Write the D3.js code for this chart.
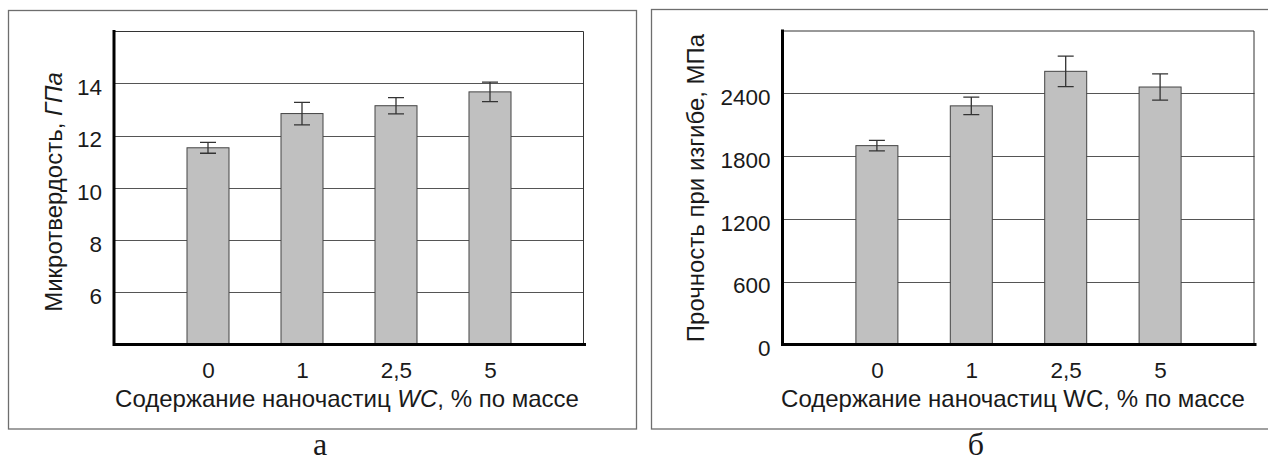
<!DOCTYPE html>
<html>
<head>
<meta charset="utf-8">
<script src="https://cdn.jsdelivr.net/npm/d3@7"></script>
<style>
  body { margin: 0; background: #fff; }
  text { font-family: "Liberation Sans", Arial, sans-serif; fill: #1a1a1a; }
  .caption { font-family: "Liberation Serif", "Times New Roman", serif; }
</style>
</head>
<body>
<div id="chart"></div>
<script>
// WC nanoparticle content, % by mass
const categories = ["0", "1", "2,5", "5"];

// panel a: microhardness, GPa
const hardness = [11.53, 12.84, 13.14, 13.67];
const hardnessErr = [0.21, 0.43, 0.31, 0.37];
const hardnessTicks = [6, 8, 10, 12, 14];

// panel b: bending strength, MPa
const strength = [1900, 2280, 2610, 2460];
const strengthErr = [51, 83, 146, 125];
const strengthTicks = [0, 600, 1200, 1800, 2400];

const W = 1268, H = 462;

const svg = d3.select("#chart")
    .append("svg")
    .attr("width", W)
    .attr("height", H);

function drawPanel(p) {
    const g = svg.append("g");

    // outer frame
    g.append("rect")
        .attr("x", p.frame[0]).attr("y", p.frame[1])
        .attr("width", p.frame[2]).attr("height", p.frame[3])
        .attr("fill", "none")
        .attr("stroke", "#6e6e6e")
        .attr("stroke-width", 1.3);

    const x = d3.scalePoint()
        .domain(categories)
        .range([p.left, p.right])
        .padding(1);

    const y = d3.scaleLinear()
        .domain(p.domain)
        .range([p.bottom, p.top]);

    // gridlines
    g.append("g")
        .selectAll("line")
        .data(p.ticks)
        .enter()
        .append("line")
        .attr("x1", p.left).attr("x2", p.right)
        .attr("y1", d => Math.round(y(d)) + 0.5)
        .attr("y2", d => Math.round(y(d)) + 0.5)
        .attr("stroke", "#555")
        .attr("stroke-width", 1);

    // plot top and right border
    g.append("path")
        .attr("d", `M${p.left},${p.top + 0.5}H${p.right - 0.5}V${p.bottom}`)
        .attr("fill", "none")
        .attr("stroke", "#333")
        .attr("stroke-width", 1);

    const bw = 42;
    // bars
    g.append("g")
        .selectAll("rect")
        .data(p.values)
        .enter()
        .append("rect")
        .attr("x", (d, i) => x(categories[i]) - bw / 2)
        .attr("y", d => y(d))
        .attr("width", bw)
        .attr("height", d => p.bottom - y(d))
        .attr("fill", "#c0c0c0")
        .attr("stroke", "#444")
        .attr("stroke-width", 1);

    // error bars
    const cap = 8;
    g.append("g")
        .attr("stroke", "#333")
        .attr("stroke-width", 1.3)
        .selectAll("path")
        .data(p.values)
        .enter()
        .append("path")
        .attr("fill", "none")
        .attr("d", (d, i) => {
            const cx = x(categories[i]);
            const e = p.errors[i];
            const y1 = y(d + e), y0 = y(d - e);
            return `M${cx - cap},${y1}H${cx + cap}M${cx},${y1}V${y0}M${cx - cap},${y0}H${cx + cap}`;
        });

    // y axis
    const yAxis = d3.axisLeft(y)
        .tickValues(p.ticks)
        .tickFormat(d3.format("d"))
        .tickSize(0)
        .tickPadding(12);
    const ya = g.append("g")
        .attr("transform", `translate(${p.left},0)`)
        .call(yAxis);
    ya.select(".domain").remove();
    ya.selectAll("text")
        .attr("font-size", 22.5)
        .attr("dy", "0.5em")
        .style("font-family", "Liberation Sans, Arial, sans-serif")
        .attr("fill", "#1a1a1a");

    // x axis
    const xAxis = d3.axisBottom(x)
        .tickSize(0)
        .tickPadding(18);
    const xa = g.append("g")
        .attr("transform", `translate(0,${p.bottom})`)
        .call(xAxis);
    xa.select(".domain").remove();
    xa.selectAll("text")
        .attr("font-size", 22.5)
        .style("font-family", "Liberation Sans, Arial, sans-serif")
        .attr("fill", "#1a1a1a");

    // thick axis lines
    g.append("path")
        .attr("d", `M${p.left},${p.top - 1}V${p.bottom}H${p.right + 2}`)
        .attr("fill", "none")
        .attr("stroke", "#000")
        .attr("stroke-width", 3);

    // y title
    const yt = g.append("text")
        .attr("transform", `translate(${p.yTitleX},${p.yTitleY}) rotate(-90)`)
        .attr("text-anchor", "middle")
        .attr("font-size", 24);
    p.yTitle.forEach(s => yt.append("tspan").attr("font-style", s.italic ? "italic" : null).text(s.t));

    // x title
    const xt = g.append("text")
        .attr("x", p.xTitleX)
        .attr("y", 407)
        .attr("text-anchor", "middle")
        .attr("font-size", 24);
    p.xTitle.forEach(s => xt.append("tspan").attr("font-style", s.italic ? "italic" : null).text(s.t));

    // caption
    g.append("text")
        .attr("class", "caption")
        .attr("x", p.capX)
        .attr("y", 455)
        .attr("text-anchor", "middle")
        .attr("font-size", 32)
        .text(p.caption);
}

drawPanel({
    frame: [8.5, 10.5, 628, 418.5],
    left: 114, right: 584, top: 31, bottom: 344.5,
    domain: [4, 16],
    ticks: hardnessTicks,
    values: hardness,
    errors: hardnessErr,
    yTitle: [{t: "Микротвердость, "}, {t: "ГПа", italic: true}],
    yTitleX: 62, yTitleY: 192,
    xTitle: [{t: "Содержание наночастиц "}, {t: "WC", italic: true}, {t: ", % по массе"}],
    xTitleX: 347,
    caption: "а",
    capX: 320
});

drawPanel({
    frame: [651.5, 9.5, 640, 419.5],
    left: 782.5, right: 1254.5, top: 30.5, bottom: 344.5,
    domain: [0, 3000],
    ticks: strengthTicks,
    values: strength,
    errors: strengthErr,
    yTitle: [{t: "Прочность при изгибе, МПа"}],
    yTitleX: 704, yTitleY: 188,
    xTitle: [{t: "Содержание наночастиц WC, % по массе"}],
    xTitleX: 1013,
    caption: "б",
    capX: 976
});
</script>
</body>
</html>
